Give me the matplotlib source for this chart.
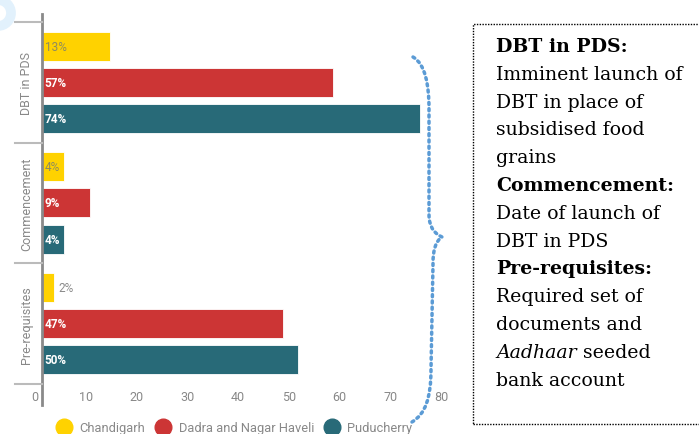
import matplotlib.pyplot as plt
import matplotlib.patches as mpatches
from matplotlib.path import Path
from matplotlib.lines import Line2D
from matplotlib.transforms import IdentityTransform, offset_copy

# datos
groups = ['DBT in PDS', 'Commencement', 'Pre-requisites']
series = ['Chandigarh', 'Dadra and Nagar Haveli', 'Puducherry']
values = {
    'Chandigarh': [13, 4, 2],
    'Dadra and Nagar Haveli': [57, 9, 47],
    'Puducherry': [74, 4, 50],
}
colors = ['#FFD200', '#CC3535', '#286A78']
label_colors = ['#8C8A60', 'white', 'white']
xticks = [0, 10, 20, 30, 40, 50, 60, 70, 80]

note_lines = [
    ('DBT in PDS:', 'bold'),
    ('Imminent launch of', 'normal'),
    ('DBT in place of', 'normal'),
    ('subsidised food', 'normal'),
    ('grains', 'normal'),
    ('Commencement:', 'bold'),
    ('Date of launch of', 'normal'),
    ('DBT in PDS', 'normal'),
    ('Pre-requisites:', 'bold'),
    ('Required set of', 'normal'),
    ('documents and', 'normal'),
    ('Aadhaar', 'italic'),
    ('bank account', 'normal'),
]

narrow = ['Roboto', 'DejaVu Sans']

W, H = 699, 435
fig = plt.figure(figsize=(W / 100, H / 100), dpi=100)
ax = fig.add_axes([42 / W, 1 - 388 / H, 406 / W, 373 / H])

offs = [-0.3, 0.0, 0.3]
for j, s in enumerate(series):
    for i, v in enumerate(values[s]):
        y = i + offs[j]
        ax.barh(y, v + 0.4, height=0.24, color=colors[j], edgecolor='white', linewidth=0.6)
        if v < 3:
            ax.annotate(f'{v}%', (v + 0.4, y), xytext=(3, 0), textcoords='offset points',
                        va='center', ha='left', fontsize=8.5, color='#8a8a8a', family=narrow)
        else:
            ax.annotate(f'{v}%', (0, y), xytext=(2, 0), textcoords='offset points',
                        va='center', ha='left', fontsize=8.5, color=label_colors[j],
                        family=narrow, fontweight='bold' if j > 0 else 'normal')

ax.set_xlim(0, 80)
ax.set_ylim(2.525, -0.566)
ax.set_xticks(xticks)
ax.set_xticklabels([str(t) for t in xticks], fontsize=9, color='#888888', family=narrow)
ax.tick_params(axis='x', length=0, pad=2.5)
ax.set_yticks([])
for sp in ax.spines.values():
    sp.set_visible(False)
# etiquetas desplazadas a la izquierda como en el original
for lab in ax.get_xticklabels():
    lab.set_transform(offset_copy(lab.get_transform(), fig=fig, x=-7, y=0, units='dots'))

# eje izquierdo y separadores
ax.plot([0, 0], [2.674, -0.566], color='#8a8a8a', lw=2, clip_on=False)
for yy in [-0.5, 0.5, 1.5, 2.5]:
    ax.plot([-27 / 406 * 80, 0], [yy, yy], color='#bbbbbb', lw=1.5, clip_on=False)
for i, g in enumerate(groups):
    ax.text(-15 / 406 * 80, i, g, rotation=90, va='center', ha='center',
            fontsize=9, color='#888888', family=narrow)

# leyenda
handles = [Line2D([], [], marker='o', ls='', markersize=12, markerfacecolor=c,
                  markeredgecolor=c) for c in colors]
leg = fig.legend(handles, series, loc='center', bbox_to_anchor=(233 / W, 1 - 429 / H),
                 ncol=3, frameon=False, handletextpad=0.4, columnspacing=0.6,
                 handlelength=1.6, prop={'family': narrow, 'size': 9.3})
for t in leg.get_texts():
    t.set_color('#888888')

# llave punteada
px = lambda x, y: (x, H - y)
verts = [px(413, 58), px(425, 65), px(429, 85), px(429, 110),
         px(429, 215),
         px(429, 230), px(436, 235), px(442, 238),
         px(436, 242), px(433, 250), px(433, 265),
         px(431, 370),
         px(431, 400), px(425, 415), px(412, 423)]
codes = [Path.MOVETO, Path.CURVE4, Path.CURVE4, Path.CURVE4,
         Path.LINETO,
         Path.CURVE4, Path.CURVE4, Path.CURVE4,
         Path.CURVE4, Path.CURVE4, Path.CURVE4,
         Path.LINETO,
         Path.CURVE4, Path.CURVE4, Path.CURVE4]
brace = mpatches.PathPatch(Path(verts, codes), fill=False, edgecolor='#5B9BD5', lw=2.5,
                           linestyle=(0, (0.6, 1.2)), capstyle='round',
                           transform=IdentityTransform())
fig.patches.append(brace)

# mancha azul arriba a la izquierda
blob = mpatches.Circle(px(-2, 14), 13, fill=False, edgecolor='#E2F1FC', lw=7,
                       transform=IdentityTransform())
fig.patches.append(blob)

# recuadro de notas
box = mpatches.Rectangle(px(473, 425), 240, 400, fill=False, edgecolor='black', lw=1,
                         linestyle=(0, (1, 1)), transform=IdentityTransform())
fig.patches.append(box)

y0, step = 47, 27.8
for k, (txt, style) in enumerate(note_lines):
    x, y = 496 / W, 1 - (y0 + k * step) / H
    kw = dict(fontsize=13.6, family='DejaVu Serif', va='center', ha='left', color='black')
    if style == 'bold':
        fig.text(x, y, txt, fontweight='bold', **kw)
    elif style == 'italic':
        t = fig.text(x, y, txt, style='italic', **kw)
        fig.canvas.draw()
        bb = t.get_window_extent()
        fig.text(bb.x1 / W, y, ' seeded', **kw)
    else:
        fig.text(x, y, txt, **kw)

fig.savefig('out.png', dpi=100)
